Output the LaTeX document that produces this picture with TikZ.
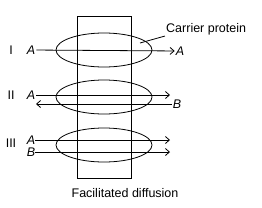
\documentclass[tikz,border=0pt]{standalone}
\usepackage{fontspec}
\setmainfont{Liberation Sans}
\usetikzlibrary{positioning,arrows.meta}

\begin{document}
\begin{tikzpicture}[
  x=1pt,y=-1pt,
  every node/.style={font=\fontsize{12.5}{14}\selectfont,inner sep=1pt},
  line/.style={draw,line width=0.8pt},
  flow/.style={line,-{Straight Barb[length=4pt,width=7pt]}},
  protein/.style={line}
]
  \useasboundingbox (0,0) rectangle (262,207);

  % membrane
  \draw[line] (77,16) rectangle (131,178);

  % carrier proteins
  \foreach \y in {50,97,145}{
    \draw[protein] (104,\y) ellipse (48 and 17);
  }

  % roman numerals
  \node (n1) at (11,50) {I};
  \node (n2) at (11,95) {II};
  \node (n3) at (11,143) {III};

  % row I
  \node (a1) at (31,50) {\itshape A};
  \node (a1r) at (180,51) {\itshape A};
  \draw[flow] (a1) -- (a1r);

  % row II
  \node (a2) at (31,95) {\itshape A};
  \node (b2) at (177,104) {\itshape B};
  \coordinate (a2e) at (170,95);
  \coordinate (b2e) at (36,104);
  \draw[flow] (a2) -- (a2e);
  \draw[flow] (b2) -- (b2e);

  % row III
  \node[inner sep=0pt] (a3) at (31,140) {\itshape A};
  \node[inner sep=0pt] (b3) at (31,152) {\itshape B};
  \coordinate (a3e) at (170,140);
  \coordinate (b3e) at (170,152);
  \draw[flow] (a3) -- (a3e);
  \draw[flow] (b3) -- (b3e);

  % labels
  \node[anchor=west] (cp) at (165,29) {Carrier protein};
  \coordinate (cpe) at (140,43);
  \draw[line] (cp.south west) -- (cpe);

  \node (fd) at (125,193) {Facilitated diffusion};
\end{tikzpicture}
\end{document}
